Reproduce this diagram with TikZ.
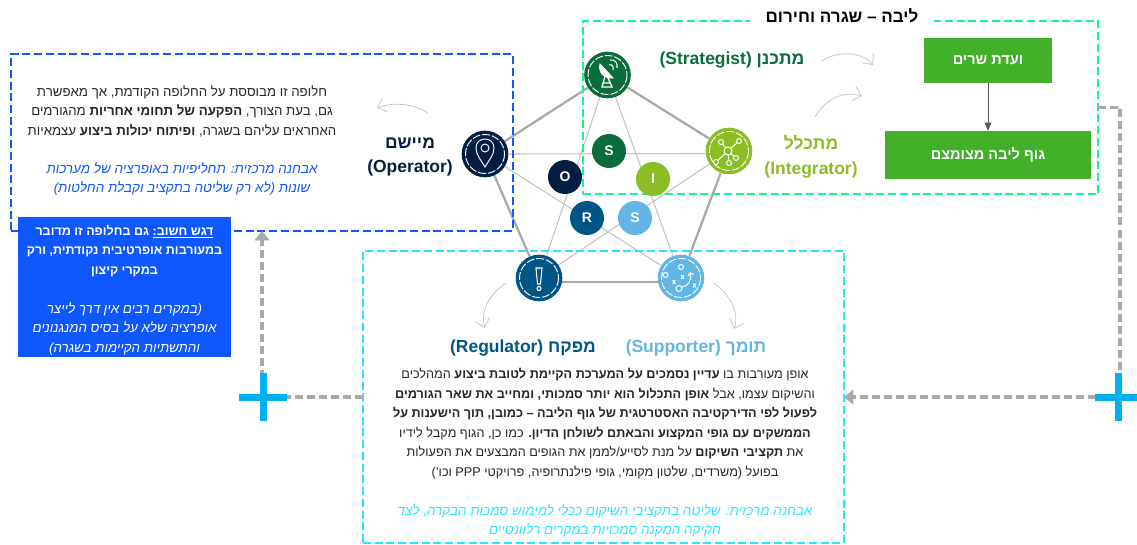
\documentclass[tikz,border=0pt]{standalone}
\usepackage{fontspec}
\usepackage{tikz}
\usetikzlibrary{arrows.meta,backgrounds}
\setmainfont{Liberation Sans}[Script=Hebrew]
\TeXXeTstate=1
\newcommand{\rl}[1]{\beginR #1\endR}
\definecolor{OpBlue}{HTML}{041E42}
\definecolor{StGreen}{HTML}{0A6B3B}
\definecolor{InGreen}{HTML}{8CBD26}
\definecolor{SuBlue}{HTML}{62B5E5}
\definecolor{ReBlue}{HTML}{005587}
\definecolor{FrameBlue}{HTML}{0F57FF}
\definecolor{FrameCyan}{HTML}{2BE5FF}
\definecolor{FrameGreen}{HTML}{14F58C}
\definecolor{BoxGreen}{HTML}{43B02A}
\definecolor{BodyGrey}{HTML}{262626}
\definecolor{WireGrey}{HTML}{A9A9A9}
\definecolor{PlusBlue}{HTML}{00B0F0}
\tikzset{
  frame/.style={draw, rectangle, line width=2.1pt, dash pattern=on 6pt off 2.8pt, inner sep=0pt, outer sep=0pt},
  bigdot/.style={circle, minimum size=35pt, inner sep=0pt},
  smalldot/.style={circle, minimum size=25.5pt, inner sep=0pt, text=white, font=\fontsize{10.5}{12}\selectfont\bfseries},
  ring/.style={white, line width=0.7pt, dash pattern=on 6pt off 1.4pt},
  icon/.style={white, line width=0.7pt},
  thinwire/.style={line width=0.8pt, WireGrey!70},
  thickwire/.style={line width=1.7pt, WireGrey},
  swoop/.style={line width=0.6pt, black!22, -{Straight Barb[length=6pt,width=11pt]}},
  flow/.style={line width=2.4pt, WireGrey, dash pattern=on 6pt off 3pt, -{Triangle[length=7pt,width=11pt]}},
  plusbar/.style={line width=5.25pt, PlusBlue},
  body/.style={align=center, inner sep=0pt, text=BodyGrey, font=\fontsize{9.5}{14.6}\selectfont},
  note/.style={align=center, inner sep=0pt, font=\fontsize{10.1}{14.6}\selectfont\itshape},
  role/.style={align=center, inner sep=0pt, font=\fontsize{13.1}{18.6}\selectfont\bfseries},
  greenbox/.style={rectangle, fill=BoxGreen, text=white, inner sep=0pt, font=\fontsize{10.9}{12}\selectfont\bfseries},
}
\begin{document}
\begin{tikzpicture}[x=0.75pt, y=-0.75pt]
  \useasboundingbox (0,0) rectangle (1137,545);
  % Frames, then the pentagon, the labels and the flows:
  \node[frame, draw=FrameGreen, minimum width=386.25pt, minimum height=129.75pt](FrameL) at (840.5,107.5){};
  \node[frame, draw=FrameBlue, minimum width=376.5pt, minimum height=132.75pt](FrameO) at (262,142.5){};
  \node[frame, draw=FrameCyan, minimum width=360.75pt, minimum height=219pt](FrameS) at (603.5,397){};
  \node[fill=white, minimum width=138pt, minimum height=15pt, inner sep=0pt, font=\fontsize{12.8}{15}\selectfont\bfseries](Title) at (842,16){\rl{ליבה – שגרה וחירום}};

  \node[bigdot, fill=StGreen](St) at (607.5,75){};
  \node[bigdot, fill=InGreen](In) at (729,151){};
  \node[bigdot, fill=SuBlue](Su) at (681,278){};
  \node[bigdot, fill=ReBlue](Re) at (539,278){};
  \node[bigdot, fill=OpBlue](Op) at (485,154){};
  \begin{scope}[on background layer]
    \draw[thickwire] (Op) -- (St) -- (In) -- (Su);
    \draw[thickwire] (Su.190) -- (Re.-10);
    \draw[thickwire] (Re) -- (Op);
    \draw[thinwire] (Op.east) -- (In.186);
    \draw[thinwire] (In) -- (Re) -- (St) -- (Su) -- (Op);
  \end{scope}
  \draw[ring] (St) circle (19.5);
  \draw[ring] (In) circle (19.5);
  \draw[ring] (Su) circle (19.5);
  \draw[ring] (Re) circle (19.5);
  \draw[ring] (Op) circle (19.5);

  \node[smalldot, fill=StGreen](DotS) at (609,151){S};
  \node[smalldot, fill=InGreen](DotI) at (653,179){I};
  \node[smalldot, fill=OpBlue](DotO) at (565,177){O};
  \node[smalldot, fill=ReBlue](DotR) at (587,218){R};
  \node[smalldot, fill=SuBlue](DotT) at (635,218){S};

  % icons
  \draw[icon] (485,167) .. controls (481,160) and (476,155) .. (476,148) .. controls (476,136) and (494,136) .. (494,148) .. controls (494,155) and (489,160) .. (485,167) -- cycle;
  \draw[icon] (485,148) circle (4);
  \draw[icon, fill=white] (600,64) .. controls (598,72) and (604,79) .. (613,78) -- cycle;
  \draw[icon, line width=1pt] (605,76) -- (602,87) -- (612,87) -- (608,78) (603,83) -- (610,83);
  \draw[icon, line width=0.8pt] (609,65) .. controls (612,64) and (614,66) .. (613,70) (610,60) .. controls (615,59) and (618,63) .. (617,68);
  \draw[icon] (728,151) -- (739,141) (728,151) -- (721,142) (728,151) -- (736,158) (728,151) -- (729,163) (728,151) -- (716,162);
  \draw[icon, fill=InGreen] (728,151) circle (4) (739,141) circle (2.5) (721,142) circle (2.5) (736,158) circle (2.5) (729,163) circle (2.5) (716,162) circle (2.5);
  \draw[icon, line width=0.8pt] (536,268) -- (542,268) -- (540.5,284) -- (537.5,284) -- cycle;
  \draw[icon, line width=0.8pt] (539,288.5) circle (2);
  \draw[icon] (681,267) circle (2.5) (665.5,275) circle (2.5) (679,288.5) circle (3);
  \draw[icon] (672.5,280) -- (675.5,284) (675.5,280) -- (672.5,284) (681,275) -- (684,279) (684,275) -- (681,279) (693,283.5) -- (696,287.5) (696,283.5) -- (693,287.5);
  \draw[icon, -{Straight Barb[length=2pt,width=4pt]}] (682,287) .. controls (688,286) and (692,281) .. (690,272);

  % labels
  \node[role, text=OpBlue](LabelO) at (410,157){\rl{מיישם}\\(Operator)};
  \node[role, text=InGreen](LabelI) at (811,157){\rl{מתכלל}\\(Integrator)};
  \node[role, text=StGreen](LabelT) at (732,60){(Strategist) \rl{מתכנן}};
  \node[role, text=ReBlue](LabelR) at (523,348){(Regulator) \rl{מפקח}};
  \node[role, text=SuBlue](LabelU) at (696,348){(Supporter) \rl{תומך}};

  \draw[swoop] (428,113) .. controls (412,103) and (393,102) .. (377,108);
  \draw[swoop] (822,61) .. controls (838,50) and (863,52) .. (873,65);
  \draw[swoop] (815,117) .. controls (825,100) and (842,90) .. (862,96);
  \draw[swoop] (506,283) .. controls (489,294) and (480,312) .. (485,328);
  \draw[swoop] (713,283) .. controls (729,293) and (740,312) .. (734,329);

  % text blocks
  \node[body, font=\fontsize{9.95}{14.6}\selectfont](TextO) at (182,111){\rl{חלופה זו מבוססת על החלופה הקודמת, אך מאפשרת}\\
    \rl{גם, בעת הצורך,  \textbf{הפקעה של תחומי אחריות} מהגורמים}\\
    \rl{האחראים עליהם בשגרה, \textbf{ופיתוח יכולות ביצוע} עצמאיות}};
  \node[note, text=FrameBlue](NoteO) at (182,179){\rl{אבחנה מרכזית: תחליפיות באופרציה של מערכות}\\
    \rl{שונות (לא רק שליטה בתקציב וקבלת החלטות)}};

  \node[rectangle, fill=FrameBlue, minimum width=159.75pt, minimum height=105pt, inner sep=0pt](Stress) at (124.5,287){};
  \node[body, text=white, font=\fontsize{9.4}{14.6}\selectfont\bfseries](StressA) at (124.5,251){\rl{\underline{\rl{דגש חשוב:}} גם בחלופה זו מדובר}\\
    \rl{במעורבות אופרטיבית נקודתית, ורק}\\
    \rl{במקרי קיצון}};
  \node[note, text=white, font=\fontsize{10}{14.6}\selectfont\itshape](StressB) at (124.5,328.5){\rl{(במקרים רבים אין דרך לייצר}\\
    \rl{אופרציה שלא על בסיס המנגנונים}\\
    \rl{והתשתיות הקיימות בשגרה)}};

  \node[body](TextS) at (605,423.5){\rl{אופן מעורבות בו \textbf{עדיין נסמכים על המערכת הקיימת לטובת ביצוע} המהלכים}\\
    \rl{והשיקום עצמו, אבל \textbf{אופן התכלול הוא יותר סמכותי, ומחייב את שאר הגורמים}}\\
    \rl{\textbf{לפעול לפי הדירקטיבה האסטרטגית של  גוף הליבה – כמובן, תוך הישענות על}}\\
    \rl{\textbf{הממשקים עם גופי המקצוע והבאתם לשולחן הדיון.} כמו כן, הגוף מקבל לידיו}\\
    \rl{את \textbf{תקציבי השיקום} על מנת לסייע/לממן את הגופים המבצעים את הפעולות}\\
    \rl{בפועל (משרדים, שלטון מקומי, גופי פילנתרופיה, פרויקטי \beginL PPP\endL{} וכו')}};
  \node[note, text=FrameCyan](NoteS) at (605,521){\rl{אבחנה מרכזית: שליטה בתקציבי השיקום ככלי למימוש סמכות הבקרה, לצד}\\
    \rl{חקיקה המקנה סמכויות במקרים רלוונטיים}};

  % core body boxes
  \node[greenbox, minimum width=96pt, minimum height=33.75pt](Vaada) at (988,60.5){\raisebox{-3pt}{\rl{ועדת שרים}}};
  \node[greenbox, minimum width=154pt, minimum height=36pt](Guf) at (988,155){\raisebox{-3pt}{\rl{גוף ליבה מצומצם}}};
  \draw[line width=0.6pt, black!65, -{Triangle[length=6pt,width=5pt]}] (Vaada) -- (Guf);

  % flows between the frames
  \coordinate (TurnR) at (1120,397);
  \coordinate (TurnO) at (262,231);
  \draw[flow] (FrameL.east) -| (TurnR) -- (FrameS.east);
  \draw[flow] (FrameS.west) -| (TurnO);
  \coordinate (PlusO) at (263,397);
  \coordinate (PlusR) at (1118.5,397);
  \draw[plusbar] (PlusO) +(-24,0) -- +(24,0) (PlusO) +(0,-24) -- +(0,24);
  \draw[plusbar] (PlusR) +(-24,0) -- +(24,0) (PlusR) +(0,-24) -- +(0,24);
\end{tikzpicture}
\end{document}
